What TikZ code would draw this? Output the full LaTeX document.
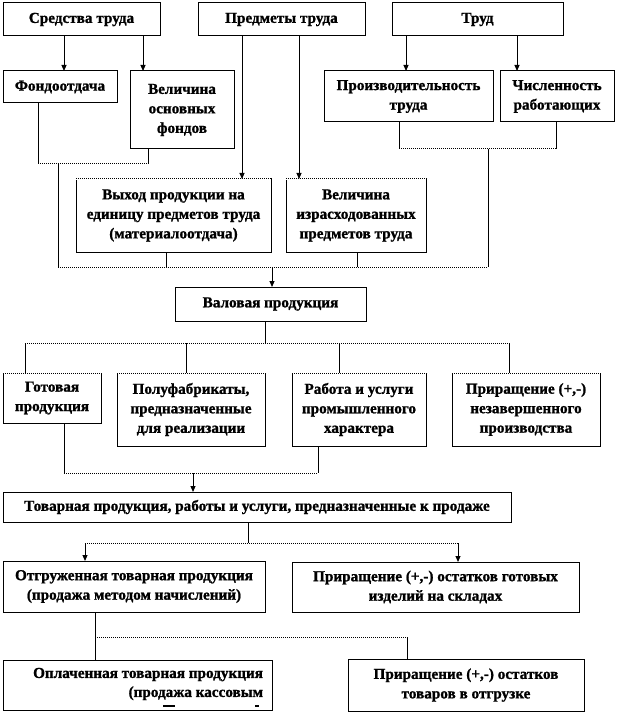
\documentclass[tikz,border=0pt]{standalone}
\usepackage{fontspec}
\setmainfont{Liberation Serif}[BoldFeatures={FakeBold=1.2}]
\usetikzlibrary{arrows.meta}
\tikzset{
  box/.style={draw, line width=1pt, inner sep=0pt, outer sep=0pt, align=center,
    font=\bfseries\fontsize{15.2}{19.5}\selectfont},
  txt/.style={inner sep=0pt, outer sep=0pt, font=\bfseries\fontsize{15.2}{19}\selectfont},
  conn/.style={line width=1pt},
  dotl/.style={line width=1pt, dash pattern=on 1pt off 1pt},
  arr/.style={line width=1pt, -{Triangle[length=6pt,width=5pt]}},
}
\newcommand\mybox[6]{\node[box, minimum width={(#4)-(#2)}, minimum height={(#5)-(#3)}]
  (#1) at ({((#2)+(#4))/2},{((#3)+(#5))/2}) {#6};}
\newcommand\dottop[1]{\draw[white, line width=1.2pt] (#1.north west) -- (#1.north east);
  \draw[dotl] (#1.north west) -- (#1.north east);}
\begin{document}
\begin{tikzpicture}[x=1pt,y=-1pt]
\useasboundingbox[fill=white] (0,0) rectangle (618,714);
% boxes
\mybox{A}{3}{3}{160}{36}{Средства труда}
\mybox{B}{198}{3}{365}{36}{Предметы труда}
\mybox{C}{392}{3}{563}{36}{Труд}
\mybox{D}{3}{71}{117}{103}{Фондоотдача}
\mybox{E}{130}{71}{234}{149}{Величина\\основных\\фондов}
\mybox{F}{324}{71}{493}{122}{Производительность\\труда}
\mybox{G}{500}{71}{614}{122}{Численность\\работающих}
\mybox{H}{76}{179}{271}{252}{Выход продукции на\\единицу предметов труда\\(материалоотдача)}
\mybox{I}{286}{179}{426}{252}{Величина\\израсходованных\\предметов труда}
\mybox{J}{175}{287}{366}{321}{Валовая продукция}
\mybox{K}{3}{373}{101}{423}{Готовая\\продукция}
\mybox{L}{117}{373}{265}{446}{Полуфабрикаты,\\предназначенные\\для реализации}
\mybox{M}{292}{373}{426}{446}{Работа и услуги\\промышленного\\характера}
\mybox{N}{452}{373}{600}{446}{Приращение (+,-)\\незавершенного\\производства}
\mybox{O}{3}{492}{511}{522}{Товарная продукция, работы и услуги, предназначенные к продаже}
\mybox{P}{3}{561}{265}{612}{Отгруженная товарная продукция\\(продажа методом начислений)}
\mybox{Q}{292}{562}{579}{612}{Приращение (+,-) остатков готовых\\изделий на складах}
\mybox{R}{3}{660}{272}{710}{}
\mybox{S}{348}{659}{584}{711}{Приращение (+,-) остатков\\товаров в отгрузке}
\node[txt, align=right, anchor=east] (Rt) at (263,684) {Оплаченная товарная продукция\\(продажа кассовым};
\draw[line width=1.5pt] (163,706) -- (175,706);
\draw[line width=1.5pt] (255,706) -- (259,706);
\dottop{H}\dottop{I}\dottop{K}\dottop{L}\dottop{M}\dottop{N}
% junction coordinates
\coordinate (jD) at (38,164);
\coordinate (jE) at (148,164);
\coordinate (jDE) at (58,164);
\coordinate (jF) at (399,149);
\coordinate (jG) at (556,149);
\coordinate (jFG) at (488,149);
\coordinate (jL1) at (58,267);
\coordinate (jH) at (166,267);
\coordinate (jI) at (357,267);
\coordinate (jR1) at (488,267);
\coordinate (jJin) at (272,267);
\coordinate (jJ) at (265,343);
\coordinate (jK) at (25,343);
\coordinate (jN) at (509,343);
\coordinate (jKb) at (64,473);
\coordinate (jMb) at (318,473);
\coordinate (jO) at (193,473);
\coordinate (jOb) at (248,543);
\coordinate (jP) at (85,543);
\coordinate (jQ) at (458,543);
\coordinate (jPb) at (95,637);
\coordinate (jS) at (407,637);
% top arrows
\draw[arr] (A.south -| 64,0) -- (D.north -| 64,0);
\draw[arr] (A.south -| 143,0) -- (E.north -| 143,0);
\draw[arr] (B.south -| 242,0) -- (H.north -| 242,0);
\draw[arr] (B.south -| 299,0) -- (I.north -| 299,0);
\draw[arr] (C.south -| 406,0) -- (F.north -| 406,0);
\draw[arr] (C.south -| 517,0) -- (G.north -| 517,0);
% bracket D-E
\draw[conn] (D.south -| jD) -- (jD);
\draw[conn] (E.south -| jE) -- (jE);
\draw[dotl] (jD) -- (jE);
\draw[conn] (jDE) -- (jL1);
% bracket F-G
\draw[conn] (F.south -| jF) -- (jF);
\draw[conn] (G.south -| jG) -- (jG);
\draw[dotl] (jF) -- (jG);
\draw[conn] (jFG) -- (jR1);
% collector to J
\draw[conn] (H.south -| jH) -- (jH);
\draw[conn] (I.south -| jI) -- (jI);
\draw[dotl] (jL1) -- (jR1);
\draw[arr] (jJin) -- (J.north -| jJin);
% J to level 4
\draw[conn] (J.south -| jJ) -- (jJ);
\draw[dotl] (jK) -- (jN);
\draw[conn] (jK) -- (K.north -| jK);
\draw[conn] (jJ -| 186,0) -- (L.north -| 186,0);
\draw[conn] (jJ -| 339,0) -- (M.north -| 339,0);
\draw[conn] (jN) -- (N.north -| jN);
% K,M to O
\draw[conn] (K.south -| jKb) -- (jKb);
\draw[conn] (M.south -| jMb) -- (jMb);
\draw[dotl] (jKb) -- (jMb);
\draw[arr] (jO) -- (O.north -| jO);
% O to P,Q
\draw[conn] (O.south -| jOb) -- (jOb);
\draw[dotl] (jP) -- (jQ);
\draw[arr] (jP) -- (P.north -| jP);
\draw[arr] (jQ) -- (Q.north -| jQ);
% P to R,S
\draw[conn] (P.south -| jPb) -- (R.north -| jPb);
\draw[dotl] (jPb) -- (jS);
\draw[conn] (jS) -- (S.north -| jS);
\end{tikzpicture}
\end{document}
